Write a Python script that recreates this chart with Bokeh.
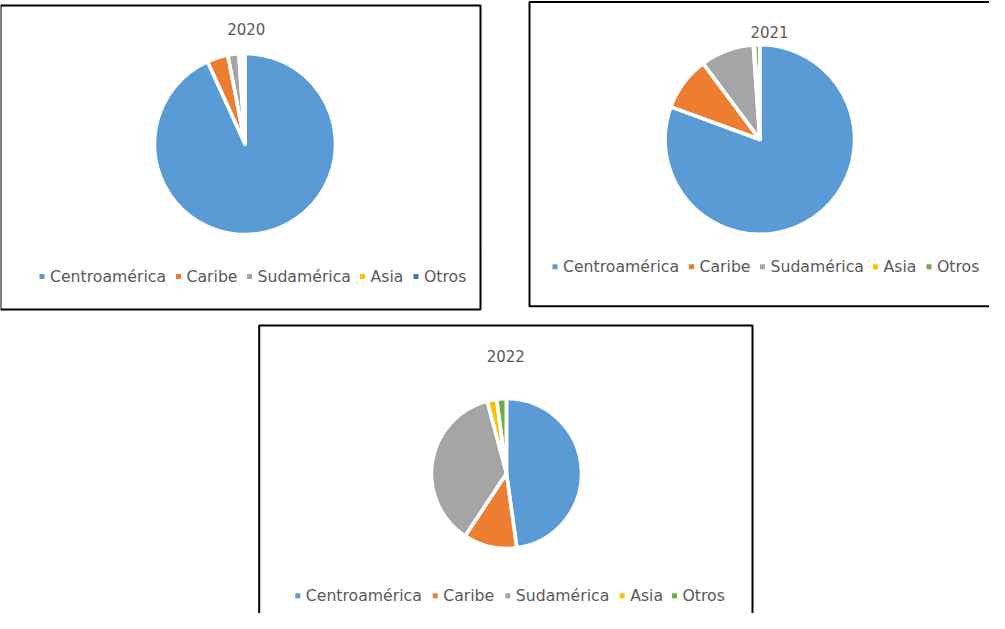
import numpy as np
from bokeh.plotting import figure
from bokeh.models import Range1d, ColumnDataSource
from bokeh.core.properties import value
from bokeh.embed import file_html
from bokeh.resources import INLINE

# ---------------- data ----------------
categories = ["Centroamérica", "Caribe", "Sudamérica", "Asia", "Otros"]
years = ["2020", "2021", "2022"]
share_2020 = [93.2, 3.75, 1.95, 0.5, 0.6]
share_2021 = [80.6, 9.2, 9.1, 0.2, 0.9]
share_2022 = [47.8, 11.5, 36.55, 2.05, 2.1]
colors_2020 = ["#5B9BD5", "#ED7D31", "#A5A5A5", "#FFC000", "#4472C4"]
colors_2122 = ["#5B9BD5", "#ED7D31", "#A5A5A5", "#FFC000", "#70AD47"]

# ---------------- layout (screen pixels) ----------------
layout = [
    dict(shares=share_2020, colors=colors_2020, box=(8, 488, 13, 317),
         center=(252.5, 151.5), r=90.5, title=(253.8, 36.7),
         leg_y=284.0, leg_x=[49.5, 186, 257, 370, 423.5]),
    dict(shares=share_2021, colors=colors_2122, box=(537, 1017, 9.5, 313.7),
         center=(767.3, 147.0), r=94.7, title=(777.0, 39.5),
         leg_y=274.3, leg_x=[562.5, 699, 770, 883, 936.5]),
    dict(shares=share_2022, colors=colors_2122, box=(266.7, 760, 333, 637),
         center=(514.0, 481.0), r=75.0, title=(513.3, 363.0),
         leg_y=603.3, leg_x=[305.3, 442.7, 515.3, 629.7, 682]),
]

W, H = 989, 613
TOP = 629  # data y = TOP - screen y

p = figure(width=W, height=H, x_range=Range1d(8, 8 + W), y_range=Range1d(TOP - 8 - H, TOP - 8),
           output_backend="svg", toolbar_location=None, min_border=0,
           x_axis_type=None, y_axis_type=None)
p.grid.visible = False
p.outline_line_color = None
p.background_fill_color = "white"
p.border_fill_color = "white"

FONT = value("DejaVu Sans")
TXT = "#595959"

for year, spec in zip(years, layout):
    shares = np.array(spec["shares"], dtype=float)
    frac = shares / shares.sum()
    cum = np.concatenate([[0.0], np.cumsum(frac)])
    cx, cy = spec["center"]
    src = ColumnDataSource(dict(
        x=[cx] * len(categories), y=[TOP - cy] * len(categories),
        start=list(np.pi / 2 - 2 * np.pi * cum[1:]),
        end=list(np.pi / 2 - 2 * np.pi * cum[:-1]),
        color=spec["colors"], cat=categories,
    ))
    p.wedge(x="x", y="y", radius=spec["r"], start_angle="start", end_angle="end",
            fill_color="color", line_color=None, source=src)
    p.wedge(x="x", y="y", radius=spec["r"], start_angle="start", end_angle="end",
            fill_alpha=0, line_color="white", line_width=3.5, line_join="round", source=src)

    # frame box
    l, r, t, b = spec["box"]
    p.quad(left=[l], right=[r], top=[TOP - t], bottom=[TOP - b], fill_alpha=0,
           line_color="black", line_width=2)

    # title
    tx, ty = spec["title"]
    p.text(x=[tx], y=[TOP - ty], text=[year], text_font=FONT, text_font_size="15px",
           text_color=TXT, text_align="center", text_baseline="middle")

    # legend
    ly = TOP - spec["leg_y"]
    lsrc = ColumnDataSource(dict(
        mx=spec["leg_x"], tx=[v + 8 for v in spec["leg_x"]], y=[ly] * len(categories),
        color=spec["colors"], cat=categories,
    ))
    p.scatter(x="mx", y="y", marker="square", size=5, fill_color="color", line_color=None,
              source=lsrc)
    p.text(x="tx", y="y", text="cat", text_font=FONT, text_font_size="15.7px",
           text_color=TXT, text_align="left", text_baseline="middle", source=lsrc)

open("out.html", "w").write(file_html(p, INLINE))
